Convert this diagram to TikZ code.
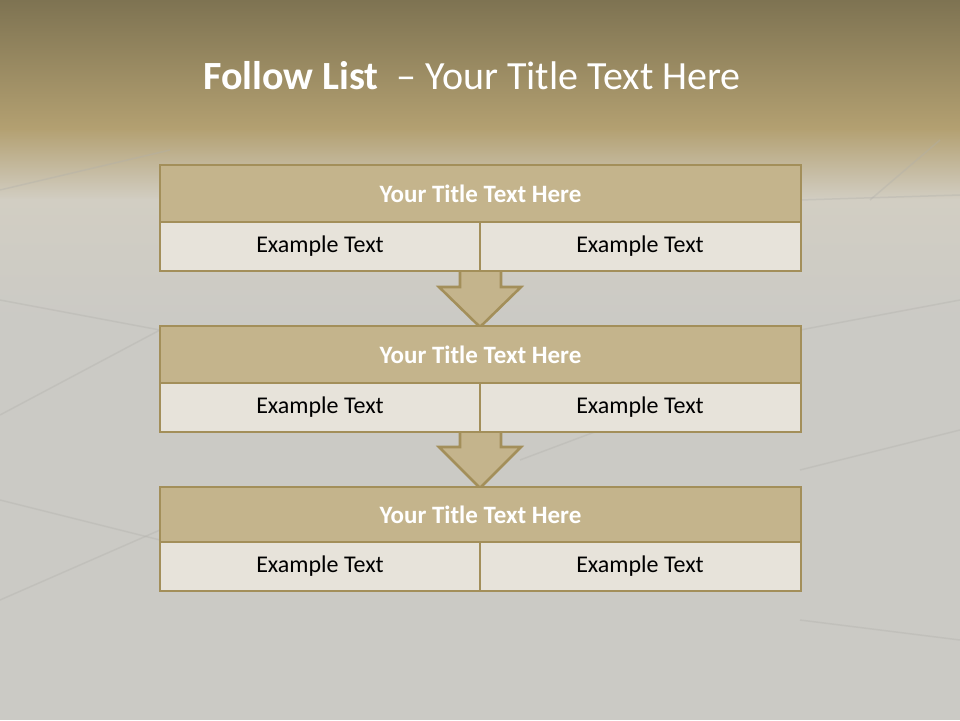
\documentclass[tikz,border=0pt]{standalone}
\usepackage{fontspec}
\setmainfont{Carlito}
\definecolor{topdark}{HTML}{7E7352}
\definecolor{topgold}{HTML}{B3A071}
\definecolor{fadegrey}{HTML}{D2CEC3}
\definecolor{floorgrey}{HTML}{CBCAC5}
\definecolor{seam}{HTML}{B0AFAA}
\definecolor{titlefill}{HTML}{C4B48C}
\definecolor{rimgold}{HTML}{A38F5A}
\definecolor{cellfill}{HTML}{E7E3DA}
\tikzset{
  headrow/.style={draw=rimgold, line width=2.6pt, fill=titlefill},
  cellrow/.style={draw=rimgold, line width=2.6pt, fill=cellfill},
  headtext/.style={text=white, font=\bfseries\fontsize{25}{30}\selectfont},
  celltext/.style={text=black, font=\fontsize{24}{29}\selectfont},
  downarrow/.style={draw=rimgold, line width=2.6pt, fill=titlefill, line join=miter},
  seamline/.style={draw=seam, line width=1.5pt, opacity=0.35}
}
\begin{document}
\begin{tikzpicture}[x=1pt,y=-1pt]
\useasboundingbox (0,0) rectangle (960,720);
% background
\fill[floorgrey] (0,0) rectangle (960,720);
\shade[top color=topgold, bottom color=fadegrey] (0,128) rectangle (960,200);
\shade[top color=fadegrey, bottom color=floorgrey] (0,199) rectangle (960,320);
\shade[top color=topdark, bottom color=topgold] (0,0) rectangle (960,129);
% faint paving seams
\draw[seamline] (0,190) -- (170,150);
\draw[seamline] (0,300) -- (160,330) ;
\draw[seamline] (0,415) -- (160,330);
\draw[seamline] (0,500) -- (160,540);
\draw[seamline] (0,600) -- (160,530);
\draw[seamline] (800,200) -- (960,195);
\draw[seamline] (800,330) -- (960,300);
\draw[seamline] (800,470) -- (960,430);
\draw[seamline] (800,620) -- (960,640);
\draw[seamline] (870,200) -- (940,140);
\draw[seamline] (520,460) -- (600,430);
% title
\node (title) at (472,76) {\color{white}\fontsize{40}{48}\selectfont\textbf{Follow List}\ \ – Your Title Text Here};
% arrows (drawn first, under boxes)
\draw[downarrow] (460,268) -- (501,268) -- (501,287) -- (521,287) -- (480,327) -- (439,287) -- (460,287) -- cycle;
\draw[downarrow] (460,429) -- (501,429) -- (501,447) -- (521,447) -- (480,488) -- (439,447) -- (460,447) -- cycle;
% box 1
\draw[headrow] (160,165) rectangle (801,222);
\node[headtext] (h1) at (480.5,193.5) {Your Title Text Here};
\draw[cellrow] (160,222) rectangle (480,271);
\draw[cellrow] (480,222) rectangle (801,271);
\node[celltext] (c1a) at (320,246.5) {Example Text};
\node[celltext] (c1b) at (640,246.5) {Example Text};
% box 2
\draw[headrow] (160,326) rectangle (801,383);
\node[headtext] (h2) at (480.5,354.5) {Your Title Text Here};
\draw[cellrow] (160,383) rectangle (480,432);
\draw[cellrow] (480,383) rectangle (801,432);
\node[celltext] (c2a) at (320,407.5) {Example Text};
\node[celltext] (c2b) at (640,407.5) {Example Text};
% box 3
\draw[headrow] (160,487) rectangle (801,542);
\node[headtext] (h3) at (480.5,514.5) {Your Title Text Here};
\draw[cellrow] (160,542) rectangle (480,591);
\draw[cellrow] (480,542) rectangle (801,591);
\node[celltext] (c3a) at (320,566.5) {Example Text};
\node[celltext] (c3b) at (640,566.5) {Example Text};
\end{tikzpicture}
\end{document}
